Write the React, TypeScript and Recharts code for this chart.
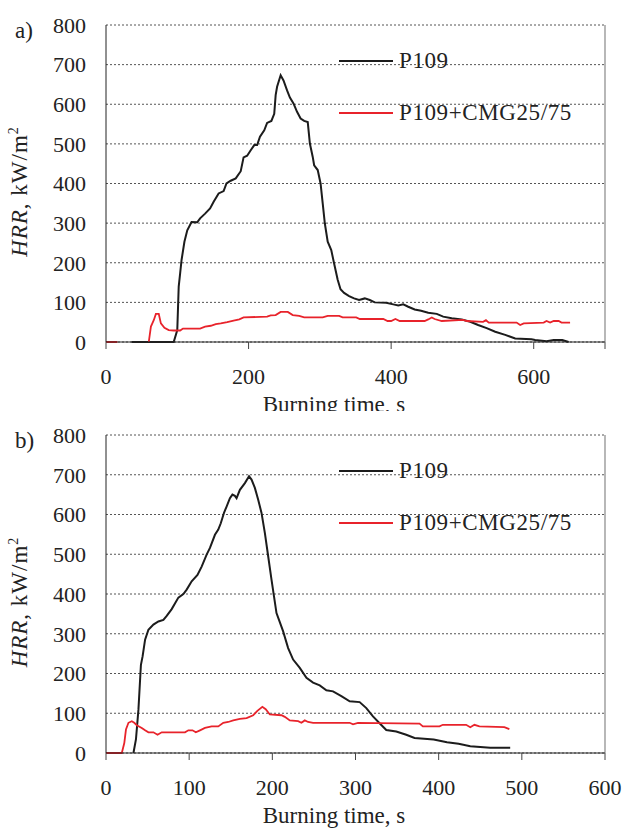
import { LineChart, Line, XAxis, YAxis, CartesianGrid, ReferenceLine } from 'recharts';

// panel a)
const aP109Time = [36, 95, 100, 102, 104, 106, 110, 114, 120, 128, 132, 139, 146, 151, 158, 165, 169, 175, 182, 189, 193, 198, 203, 208, 212, 216, 222, 226, 232, 236, 238, 240, 245, 249, 254, 258, 263, 268, 273, 278, 283, 286, 290, 292, 297, 301, 304, 307, 311, 316, 320, 325, 329, 334, 341, 348, 355, 363, 370, 377, 393, 403, 410, 417, 424, 433, 442, 452, 464, 473, 485, 499, 511, 522, 534, 546, 560, 574, 597, 602, 618, 628, 640, 649];
const aP109Hrr = [0, 0, 30, 140, 173, 207, 253, 282, 303, 302, 312, 324, 337, 354, 375, 381, 400, 407, 413, 431, 466, 470, 484, 497, 497, 518, 534, 553, 558, 576, 623, 644, 673, 660, 635, 617, 602, 581, 564, 558, 555, 501, 467, 446, 434, 400, 350, 299, 253, 232, 198, 157, 133, 124, 116, 110, 106, 110, 106, 100, 99, 95, 92, 95, 89, 82, 79, 74, 71, 64, 60, 57, 51, 43, 35, 26, 18, 9, 7, 5, 2, 5, 5, 0];
const aCmgTime = [0, 16, 30, 60, 63, 67, 70, 74, 77, 82, 88, 95, 104, 108, 132, 139, 147, 154, 161, 170, 179, 187, 193, 226, 231, 238, 245, 255, 262, 271, 278, 304, 311, 327, 332, 351, 356, 389, 395, 400, 406, 412, 447, 452, 457, 461, 471, 501, 506, 529, 533, 537, 576, 581, 586, 614, 618, 623, 628, 635, 639, 651];
const aCmgHrr = [0, 0, null, 0, 39, 55, 71, 71, 47, 36, 30, 29, 29, 34, 34, 39, 41, 45, 47, 50, 54, 57, 62, 64, 67, 68, 76, 76, 68, 66, 62, 62, 66, 66, 62, 62, 58, 58, 53, 53, 58, 53, 53, 57, 62, 58, 53, 56, 53, 51, 55, 49, 49, 43, 47, 49, 53, 49, 53, 53, 49, 49];

// panel b)
const bP109Time = [33, 36, 39, 41, 42, 44, 47, 51, 57, 63, 69, 73, 79, 87, 93, 97, 103, 110, 115, 121, 125, 131, 135, 138, 142, 145, 149, 152, 155, 157, 161, 167, 172, 175, 179, 183, 187, 191, 195, 199, 202, 205, 208, 213, 219, 225, 233, 241, 249, 257, 265, 273, 283, 293, 305, 313, 321, 329, 337, 349, 361, 371, 394, 410, 424, 438, 462, 486];
const bP109Hrr = [0, 34, 109, 185, 222, 243, 285, 310, 323, 331, 335, 345, 362, 391, 400, 411, 432, 448, 469, 499, 516, 549, 562, 578, 605, 620, 641, 650, 647, 641, 662, 679, 696, 688, 667, 637, 604, 554, 495, 436, 394, 352, 335, 306, 264, 235, 214, 189, 177, 170, 158, 155, 143, 130, 128, 113, 92, 75, 58, 54, 46, 38, 34, 27, 23, 17, 13, 13];
const bCmgTime = [0, 19, 22, 24, 27, 31, 34, 37, 43, 47, 51, 57, 62, 67, 95, 99, 104, 108, 113, 119, 127, 135, 141, 147, 153, 161, 169, 177, 182, 188, 192, 197, 211, 215, 221, 231, 235, 239, 243, 249, 293, 297, 303, 377, 381, 401, 405, 433, 438, 443, 449, 479, 485];
const bCmgHrr = [0, 0, 25, 59, 76, 80, 76, 70, 63, 57, 52, 52, 46, 52, 52, 57, 57, 52, 57, 63, 67, 67, 76, 78, 82, 86, 88, 95, 106, 116, 110, 97, 95, 91, 82, 80, 76, 82, 78, 76, 76, 72, 76, 74, 67, 67, 71, 71, 65, 71, 67, 65, 60];

const yTicks = [0, 100, 200, 300, 400, 500, 600, 700, 800];
const aXTicks = [0, 200, 400, 600, 700];
const bXTicks = [0, 100, 200, 300, 400, 500, 600];
const seriesNames = ['P109', 'P109+CMG25/75'];

const FONT = "'Liberation Serif', 'Times New Roman', serif";
const BLACK = '#1c1c1c';
const RED = '#e8232b';

const zip = (t: number[], v: (number | null)[]) => t.map((x, i) => ({ t: x, v: v[i] }));

// tick labels drawn by hand so the serif face is actually used
function XTick({ x, y, payload, hide }: any) {
  if (payload.value === hide) return null;
  return (
    <text x={x} y={y} dy="0.71em" textAnchor="middle" fontFamily={FONT} fontSize={22} fill="#222">
      {payload.value}
    </text>
  );
}

function YTick({ x, y, payload }: any) {
  return (
    <text x={x} y={y} dy="0.355em" textAnchor="end" fontFamily={FONT} fontSize={22} fill="#222">
      {payload.value}
    </text>
  );
}

function YTitle({ top, height, panel }: { top: number; height: number; panel: string }) {
  const cy = top + height / 2 + 8;
  return (
    <g fontFamily={FONT} fill="#222">
      <text x={15} y={top + 13} fontSize={23}>{panel}</text>
      <text transform={`translate(27, ${cy}) rotate(-90)`} textAnchor="middle" fontSize={23} letterSpacing={1}>
        <tspan fontStyle="italic">HRR</tspan>
        <tspan>, kW/m</tspan>
        <tspan fontSize={14} dy={-9}>2</tspan>
      </text>
    </g>
  );
}

function XTitle({ bottom }: { bottom: number }) {
  return (
    <text x={334} y={bottom + 70} textAnchor="middle" fontFamily={FONT} fontSize={23} fill="#222">
      Burning time, s
    </text>
  );
}

function LegendBox({ top }: { top: number }) {
  const row = (name: string, color: string, y: number) => (
    <div key={name} style={{ position: 'absolute', left: 339, top: y - 12, height: 24, display: 'flex', alignItems: 'center', whiteSpace: 'nowrap' }}>
      <span style={{ display: 'inline-block', width: 54, height: 2, background: color, marginRight: 6 }} />
      <span style={{ fontFamily: FONT, fontSize: 23, color: '#222', letterSpacing: 0.6 }}>{name}</span>
    </div>
  );
  return (
    <>
      {row(seriesNames[0], BLACK, top)}
      {row(seriesNames[1], RED, top + 52)}
    </>
  );
}

interface PanelProps {
  panel: string;
  xMax: number;
  xTicks: number[];
  p109: { t: number; v: number | null }[];
  cmg: { t: number; v: number | null }[];
  top: number;
  bottomGap: number;
  clip: number;
  legendTop: number;
}

function Panel({ panel, xMax, xTicks, p109, cmg, top, bottomGap, clip, legendTop }: PanelProps) {
  const H = 414;
  const plotH = H - top - bottomGap;
  return (
    <div style={{ position: 'relative', width: 629, height: clip, overflow: 'hidden' }}>
      <LineChart width={629} height={H} margin={{ top, right: 24, bottom: bottomGap - 60, left: 0 }}>
        <CartesianGrid vertical={false} stroke="#555" strokeDasharray="2 2" />
        <XAxis
          type="number"
          dataKey="t"
          domain={[0, xMax]}
          ticks={xTicks}
          interval={0}
          height={60}
          tickSize={7}
          tickMargin={19}
          tick={(p: any) => <XTick {...p} hide={700} />}
          axisLine={{ stroke: '#222' }}
          tickLine={{ stroke: '#444' }}
          label={{ content: () => <XTitle bottom={top + plotH} /> }}
        />
        <YAxis
          type="number"
          domain={[0, 800]}
          ticks={yTicks}
          interval={0}
          width={106}
          tickSize={0}
          tickMargin={20}
          tick={(p: any) => <YTick {...p} />}
          tickLine={false}
          axisLine={{ stroke: '#222' }}
          label={{ content: () => <YTitle top={top} height={plotH} panel={panel} /> }}
        />
        <ReferenceLine x={xMax} stroke="#888" strokeWidth={1.2} />
        <Line data={p109} dataKey="v" name={seriesNames[0]} type="linear" stroke={BLACK} strokeWidth={2} dot={false} isAnimationActive={false} />
        <Line data={cmg} dataKey="v" name={seriesNames[1]} type="linear" stroke={RED} strokeWidth={1.8} dot={false} isAnimationActive={false} />
      </LineChart>
      <LegendBox top={legendTop} />
    </div>
  );
}

export default function App() {
  return (
    <div style={{ position: 'absolute', left: 0, top: 0, width: 629, height: 828, background: '#fff' }}>
      <Panel panel="a)" xMax={700} xTicks={aXTicks} p109={zip(aP109Time, aP109Hrr)} cmg={zip(aCmgTime, aCmgHrr)} top={25} bottomGap={72} clip={411} legendTop={61} />
      <div style={{ position: 'absolute', left: 0, top: 414 }}>
        <Panel panel="b)" xMax={600} xTicks={bXTicks} p109={zip(bP109Time, bP109Hrr)} cmg={zip(bCmgTime, bCmgHrr)} top={21} bottomGap={75} clip={414} legendTop={57} />
      </div>
    </div>
  );
}
